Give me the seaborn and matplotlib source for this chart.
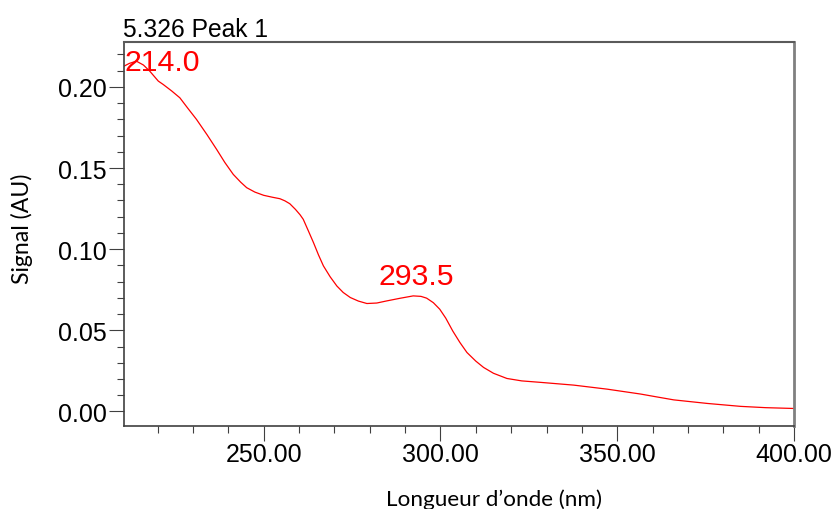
import matplotlib
matplotlib.use("Agg")
import matplotlib.pyplot as plt
import seaborn as sns
import pandas as pd
from matplotlib.ticker import MultipleLocator, FormatStrFormatter

# ---- data ----
wavelength_nm = [210.5, 212, 214, 216, 217.8, 220.2, 221.6, 224, 226.3, 228.5, 231, 234,
                 236.7, 239, 241.4, 243.5, 245.2, 247.5, 250, 252.5, 254.6, 256, 257.4, 259,
                 260.3, 261.2, 262.6, 264.1, 265.5, 266.9, 268.8, 270.7, 272.5, 274.5, 276.8,
                 279.2, 282, 284.8, 288.5, 292.3, 294.5, 296.1, 298, 299.8, 301.5, 303.5,
                 305.5, 307.5, 310, 312.2, 315, 318.8, 323, 328.3, 337.7, 347.2, 356.6, 361,
                 366, 375.5, 384.9, 392, 400]
signal_au = [0.2128, 0.2145, 0.2159, 0.2135, 0.2097, 0.2036, 0.2015, 0.1975, 0.1933, 0.1870,
             0.1800, 0.1705, 0.1615, 0.1535, 0.1461, 0.1413, 0.1379, 0.1352, 0.1332, 0.1320,
             0.1311, 0.1298, 0.1280, 0.1245, 0.1212, 0.1184, 0.1115, 0.1040, 0.0965, 0.0897,
             0.0830, 0.0773, 0.0733, 0.0702, 0.0680, 0.0665, 0.0668, 0.0681, 0.0697, 0.0712,
             0.0709, 0.0698, 0.0670, 0.0630, 0.0575, 0.0495, 0.0425, 0.0363, 0.0310, 0.0271,
             0.0235, 0.0203, 0.0188, 0.0179, 0.0162, 0.0137, 0.0107, 0.0090, 0.0071, 0.0049,
             0.0031, 0.0023, 0.0018]

peak_labels = ["214.0", "293.5"]
peak_x = [210.5, 293.3]
peak_y = [0.2103, 0.0784]

title_text = "5.326 Peak 1"
x_label = "Longueur d\u2019onde (nm)"
y_label = "Signal (AU)"
x_major = [250, 300, 350, 400]
y_major = [0.00, 0.05, 0.10, 0.15, 0.20]

df = pd.DataFrame({"wl": wavelength_nm, "sig": signal_au})

sns.set_theme(style="white")
plt.rcParams["font.family"] = ["Liberation Sans", "DejaVu Sans"]

fig = plt.figure(figsize=(8.32, 5.10), dpi=100)
ax = fig.add_axes([124 / 832, 1 - 427 / 510, (794 - 124) / 832, (427 - 43) / 510])

sns.lineplot(data=df, x="wl", y="sig", color="#ff0000", linewidth=0.9, ax=ax)

ax.set_xlim(210.5, 400)
ax.set_ylim(-0.009, 0.2277)
ax.set_xticks(x_major)
ax.set_yticks(y_major)
ax.xaxis.set_major_formatter(FormatStrFormatter("%.2f"))
ax.yaxis.set_major_formatter(FormatStrFormatter("%.2f"))
ax.xaxis.set_minor_locator(MultipleLocator(10))
ax.yaxis.set_minor_locator(MultipleLocator(0.01))

ax.tick_params(axis="both", which="major", direction="out", length=10.8, width=0.8,
               color="#404040", labelsize=18, labelcolor="black")
ax.tick_params(axis="both", which="minor", direction="out", length=5.2, width=0.8,
               color="#404040")
ax.tick_params(axis="y", which="major", pad=1.5)
ax.tick_params(axis="x", which="major", pad=1.0)
ax.tick_params(left=True, bottom=True, which="both")

for side, col, lw in [("left", "#404040", 1.2), ("bottom", "#404040", 1.2),
                      ("top", "#5a5a5a", 1.5), ("right", "#808080", 2.0)]:
    ax.spines[side].set_visible(True)
    ax.spines[side].set_color(col)
    ax.spines[side].set_linewidth(lw)

ax.set_xlabel("")
ax.set_ylabel("")
fig.text(494 / 832, 1 - 500 / 510, x_label, ha="center", va="center",
         fontsize=16.2, family=["Lato", "DejaVu Sans"], color="black")
fig.text(22 / 832, 1 - 229 / 510, y_label, ha="center", va="center", rotation=90,
         fontsize=16.6, family=["Lato", "DejaVu Sans"], color="black")

fig.text(123 / 832, 1 - 37 / 510, title_text, ha="left", va="baseline",
         fontsize=17.7, color="black")

ax.text(peak_x[0], peak_y[0], peak_labels[0], ha="left", va="baseline",
        fontsize=21.8, color="#ff0000")
ax.text(peak_x[1], peak_y[1], peak_labels[1], ha="center", va="baseline",
        fontsize=21.8, color="#ff0000")

fig.savefig("out.png", dpi=100, facecolor="white")
